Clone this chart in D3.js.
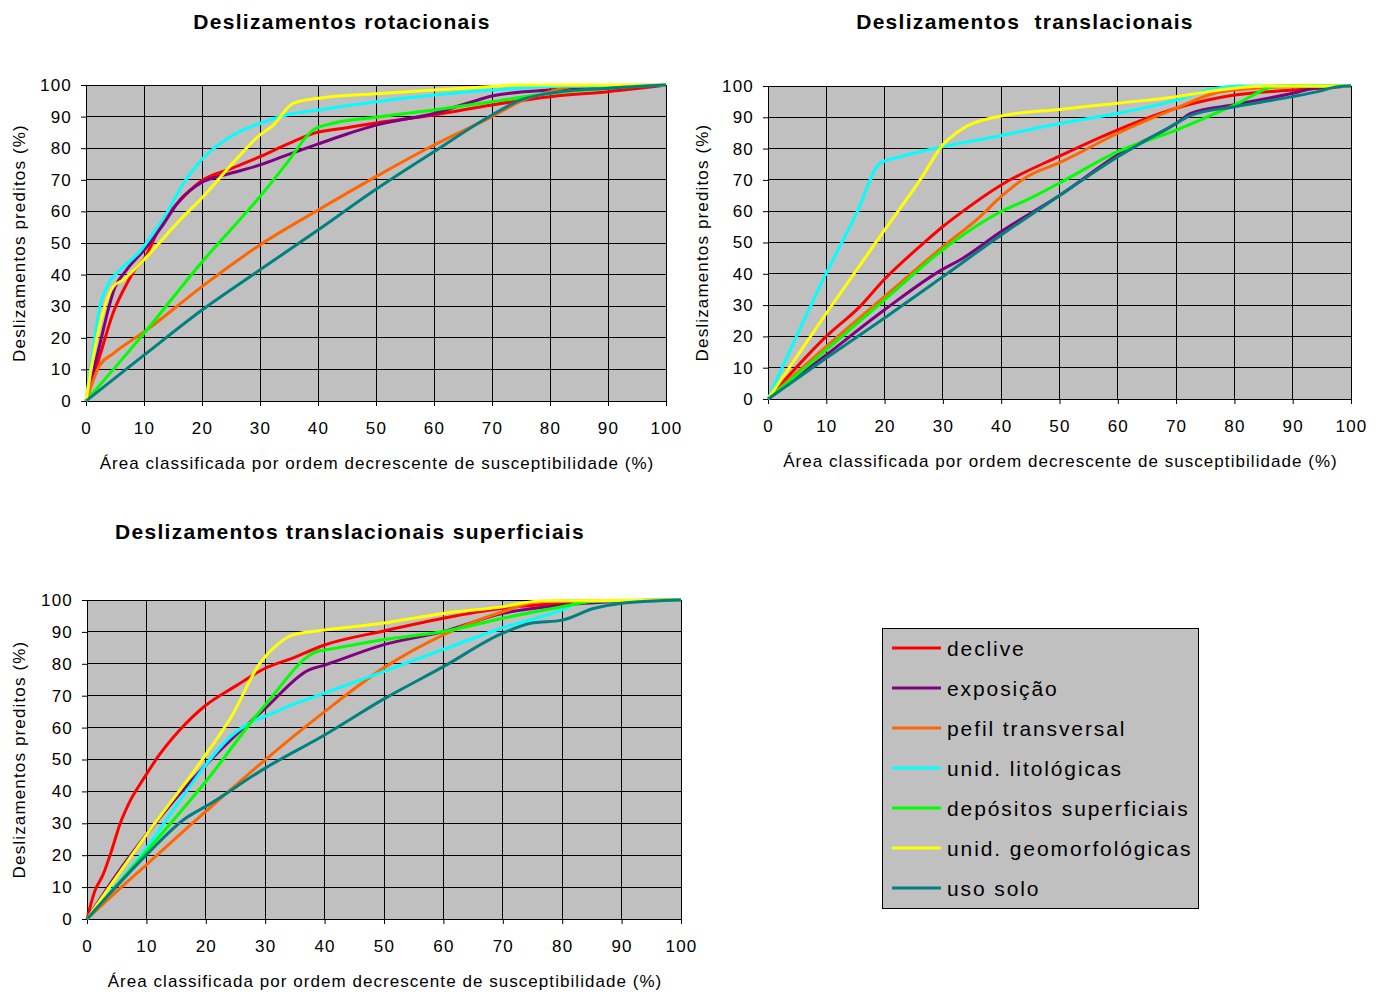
<!DOCTYPE html>
<html>
<head>
<meta charset="utf-8">
<script src="https://cdn.jsdelivr.net/npm/d3@7"></script>
<style>
 body { margin: 0; background: #fff; }
 text { font-family: Arial, "Liberation Sans", sans-serif; }
</style>
</head>
<body>
<svg width="1382" height="992"></svg>
<script>
var svg = d3.select("svg");

// series names and colours (legend order)
var seriesNames = ["declive", "exposição", "pefil transversal", "unid. litológicas",
  "depósitos superficiais", "unid. geomorfológicas", "uso solo"];
var seriesColors = ["#ff0000", "#800080", "#ff6600", "#00ffff", "#00ff00", "#ffff00", "#008080"];

var tickValues = [0, 10, 20, 30, 40, 50, 60, 70, 80, 90, 100];

// Deslizamentos rotacionais
var rotDeclive = [[0,0],[2.5,15],[4.7,28],[7,37],[8.4,41.5],[10,45],[13.3,57],[16,63],[19.7,69.4],[25,73.5],[30,77.3],[35,81.5],[39.2,84.7],[45,86.5],[50,88],[60,90.5],[70,93.7],[80,96.3],[90,97.9],[100,100]];
var rotExposicao = [[0,0],[2,15],[5,36],[7,41.5],[10.5,48.8],[13,55],[16.2,63.6],[19.7,68.9],[24.8,72],[30,74.7],[34.6,77.8],[40.3,81.5],[45,84.5],[50,87.3],[60,91],[68,95.5],[70,96.5],[80,98.4],[90,99],[100,100]];
var rotPefil = [[0,0],[2.4,11.4],[4.7,15],[10.5,22.5],[20,36.2],[30,49.4],[40,60.4],[50,71],[60,81],[70,90],[75.5,95.3],[80,97.9],[84,99.5],[100,100]];
var rotLito = [[0,0],[1.3,17.2],[2.4,29.9],[3.6,36.2],[5.9,41.5],[9.3,47.3],[11.6,53.1],[13.9,59.4],[16.8,68.9],[19.9,76.3],[25.4,84.2],[30.1,87.9],[34.6,90.5],[40.1,92.1],[50,94.7],[60,96.8],[70,98.4],[80,99.5],[100,100]];
var rotDepositos = [[0,0],[10,21.4],[20,44],[30,64.7],[34.6,75.2],[39.2,85.8],[42.6,87.9],[50,89.8],[60,92.1],[70,94.7],[80,97.4],[90,99],[100,100]];
var rotGeomorf = [[0,0],[1.8,19.3],[4.7,36.2],[6.4,38.3],[10.5,45.7],[16.2,57.3],[19.9,64.1],[24.8,74.2],[30,84.2],[32.3,87.3],[35.7,94.2],[40.1,95.8],[50,97.2],[60,98.4],[70,99.5],[74.3,100],[100,100]];
var rotUso = [[0,0],[10,14.5],[20,28.8],[30,41.5],[40,54.1],[50,67],[60,78.9],[70,90.5],[75,95.3],[80,97.4],[90,99],[100,100]];

// Deslizamentos translacionais
var traDeclive = [[0,0],[10,20],[15.8,29.6],[19.9,38.1],[26.7,49.8],[30,55.1],[33,59.4],[40,68.4],[50,77.6],[60,86],[70,92.9],[80,97.1],[90,98.7],[100,100]];
var traExposicao = [[0,0],[10,14.1],[20,28.5],[30,41.5],[33,44.5],[40,53.5],[50,65],[60,78],[70,88],[72.6,91.3],[80,94],[90,97.7],[93.7,99.3],[100,100]];
var traPefil = [[0,0],[10,16.8],[20,32.8],[30,48.7],[36.4,58.3],[40,64.7],[44.4,71],[50,75.5],[60,84.9],[70,92.9],[76.6,97.7],[80,98.7],[90,99.8],[100,100]];
var traLito = [[0,0],[10,40.2],[15.2,59.4],[19.2,75.3],[22.6,77.4],[30,80.6],[37.6,83.3],[50,88],[60,91.3],[70,95.5],[75.4,98.7],[81,100],[100,100]];
var traDepositos = [[0,0],[10,15.7],[20,31.7],[30,47.7],[40,59.9],[44.4,63.6],[50,69],[60,79],[70,85.9],[80,93.9],[87.6,100],[100,100]];
var traGeomorf = [[0,0],[10,27.4],[20,54],[26.1,70],[30,81.2],[33.5,86.5],[40,90.4],[50,92.5],[60,94.5],[70,96.6],[75.4,98.2],[80,99.3],[85,100],[100,100]];
var traUso = [[0,0],[10,13.1],[20,25.9],[30,39.1],[40,52.4],[50,65],[60,77.4],[70,88],[72.6,90.7],[80,93.4],[90,96.6],[94.3,98.2],[97.8,99.8],[100,100]];

// Deslizamentos translacionais superficiais
var supDeclive = [[0,0],[1.3,8.7],[2.7,13.9],[4.1,21.2],[5.5,29.5],[7.2,36.8],[9.4,43.6],[12.2,51.5],[15.5,59],[20,67],[25,73],[30,78.6],[34.5,81.7],[40,85.9],[50,90.3],[60,94.3],[70,97.4],[80,99],[88,99.7],[100,100]];
var supExposicao = [[0,0],[5,14],[10,26.5],[20,48.3],[24.5,56.7],[30,66],[37.3,78],[40,79.6],[50,86],[60,90.1],[70,95.8],[80,98.4],[90,99.5],[100,100]];
var supPefil = [[0,0],[4.4,7.6],[10,17],[20,33.7],[30,49.9],[40,65],[50,78.8],[60,89.1],[70,96.3],[76.3,99.5],[100,100]];
var supLito = [[0,0],[10,22.2],[15.5,36.8],[20,48.3],[23.9,56.7],[27.8,61.9],[30,63.5],[34.5,67.1],[40,70.8],[50,77.6],[60,84.5],[70,91.3],[80,96.9],[83.4,99.5],[100,100]];
var supDepositos = [[0,0],[10,21.2],[20,43.1],[30,67.1],[39,84],[40,84.3],[50,87.6],[60,90.1],[70,94.3],[80,97.9],[85.8,99.7],[100,100]];
var supGeomorf = [[0,0],[10,26.4],[20,51.5],[24.5,64],[28.9,79.6],[32.3,86.4],[34.5,89],[40,90.6],[50,92.8],[60,95.8],[70,97.9],[76.3,99.7],[100,100]];
var supUso = [[0,0],[10,20.1],[16.6,31.6],[20,35.3],[30,47.3],[40,57.7],[50,69],[60,79.1],[70,89.6],[74.7,92.7],[80,93.7],[85.4,97.4],[90,99],[95.3,99.7],[100,100]];

var xLabel = "Área classificada por ordem decrescente de susceptibilidade (%)";
var yLabel = "Deslizamentos preditos (%)";

function drawChart(opt) {
  var x = d3.scaleLinear().domain([0, 100]).range([opt.left, opt.right]);
  var y = d3.scaleLinear().domain([0, 100]).range([opt.bottom, opt.top]);
  var g = svg.append("g");

  g.append("rect")
    .attr("x", x(0)).attr("y", y(100))
    .attr("width", x(100) - x(0)).attr("height", y(0) - y(100))
    .attr("fill", "#c0c0c0");

  // grid lines
  g.append("g").selectAll("line.h")
    .data(tickValues).enter().append("line")
    .attr("x1", x(0)).attr("x2", x(100))
    .attr("y1", function(d) { return y(d); }).attr("y2", function(d) { return y(d); })
    .attr("stroke", "#000").attr("stroke-width", 1).attr("shape-rendering", "crispEdges");
  g.append("g").selectAll("line.v")
    .data(tickValues).enter().append("line")
    .attr("y1", y(0)).attr("y2", y(100))
    .attr("x1", function(d) { return x(d); }).attr("x2", function(d) { return x(d); })
    .attr("stroke", "#000").attr("stroke-width", 1).attr("shape-rendering", "crispEdges");

  // axes
  var ax = g.append("g")
    .attr("transform", "translate(0," + y(0) + ")")
    .call(d3.axisBottom(x).tickValues(tickValues).tickSize(5).tickPadding(16));
  var ay = g.append("g")
    .attr("transform", "translate(" + x(0) + ",0)")
    .call(d3.axisLeft(y).tickValues(tickValues).tickSize(5).tickPadding(9));
  [ax, ay].forEach(function(a) {
    a.selectAll("text").attr("font-size", 17).attr("letter-spacing", 1.2)
      .attr("font-family", "Arial, 'Liberation Sans', sans-serif").attr("fill", "#000");
    a.selectAll("line").attr("stroke", "#000");
    a.select(".domain").attr("stroke", "#000");
  });

  // lines
  var line = d3.line()
    .x(function(d) { return x(d[0]); })
    .y(function(d) { return y(d[1]); })
    .curve(d3.curveMonotoneX);
  g.append("g").selectAll("path")
    .data(opt.series).enter().append("path")
    .attr("d", line)
    .attr("fill", "none")
    .attr("stroke", function(d, i) { return seriesColors[i]; })
    .attr("stroke-width", 3)
    .attr("stroke-linejoin", "round");

  // title and labels
  g.append("text")
    .attr("x", opt.titleX).attr("y", opt.titleY)
    .attr("text-anchor", "middle")
    .attr("font-size", 21).attr("font-weight", "bold")
    .attr("letter-spacing", 1.3)
    .style("white-space", "pre")
    .text(opt.title);
  g.append("text")
    .attr("x", (x(0) + x(100)) / 2 + 1).attr("y", opt.bottom + 68)
    .attr("text-anchor", "middle")
    .attr("font-size", 17)
    .attr("letter-spacing", 1.05)
    .text(xLabel);
  g.append("text")
    .attr("transform", "translate(" + opt.yLabelX + "," + (y(50)) + ") rotate(-90)")
    .attr("text-anchor", "middle")
    .attr("font-size", 17)
    .attr("letter-spacing", 1.15)
    .text(yLabel);
}

drawChart({ left: 86, right: 666, top: 85, bottom: 401, title: "Deslizamentos rotacionais",
  titleX: 342, titleY: 29, yLabelX: 25,
  series: [rotDeclive, rotExposicao, rotPefil, rotLito, rotDepositos, rotGeomorf, rotUso] });

drawChart({ left: 768, right: 1351, top: 86, bottom: 399, title: "Deslizamentos  translacionais",
  titleX: 1025, titleY: 29, yLabelX: 708,
  series: [traDeclive, traExposicao, traPefil, traLito, traDepositos, traGeomorf, traUso] });

drawChart({ left: 87, right: 681, top: 600, bottom: 919, title: "Deslizamentos translacionais superficiais",
  titleX: 350, titleY: 539, yLabelX: 25,
  series: [supDeclive, supExposicao, supPefil, supLito, supDepositos, supGeomorf, supUso] });

// legend
var legend = svg.append("g");
legend.append("rect")
  .attr("x", 882.5).attr("y", 628.5).attr("width", 316).attr("height", 280)
  .attr("fill", "#c0c0c0").attr("stroke", "#000").attr("stroke-width", 1);
var rowY = d3.scalePoint().domain(seriesNames).range([648, 888]);
var items = legend.selectAll("g.item")
  .data(seriesNames).enter().append("g")
  .attr("transform", function(d) { return "translate(0," + rowY(d) + ")"; });
items.append("line")
  .attr("x1", 892).attr("x2", 941)
  .attr("stroke", function(d, i) { return seriesColors[i]; })
  .attr("stroke-width", 3);
items.append("text")
  .attr("x", 947).attr("y", 8)
  .attr("font-size", 21)
  .attr("letter-spacing", 1.9)
  .text(function(d) { return d; });
</script>
</body>
</html>
